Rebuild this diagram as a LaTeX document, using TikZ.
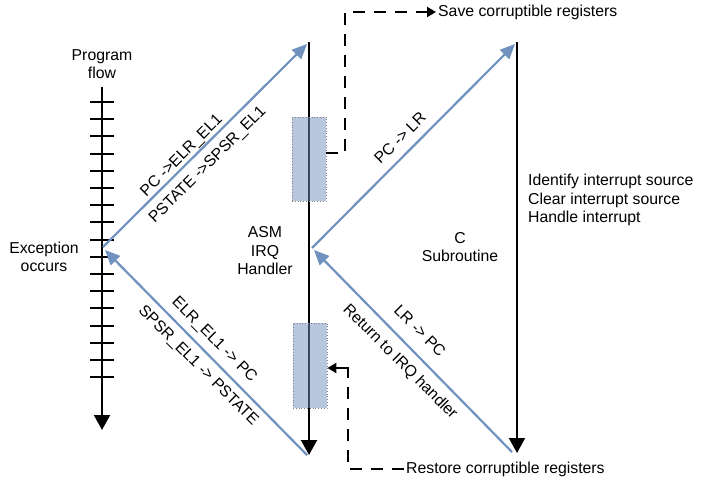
\documentclass[tikz,border=0pt]{standalone}
\usepackage{fontspec}
\setmainfont{Liberation Sans}
\usetikzlibrary{arrows.meta}
\definecolor{flowblue}{RGB}{112,146,190}
\definecolor{boxblue}{RGB}{113,141,189}
\begin{document}
\begin{tikzpicture}[x=1pt,y=-1pt,
  every node/.style={font=\fontsize{15.8}{18.5}\selectfont, inner sep=2pt},
  blk/.style={line width=2pt, black},
  blkarrow/.style={blk, -{Triangle[length=15pt,width=16pt]}},
  bluearrow/.style={line width=2.2pt, flowblue, -{Triangle[length=15pt,width=13pt]}},
  dashline/.style={line width=2pt, dash pattern=on 12pt off 9pt},
  dasharrow/.style={dashline, -{Triangle[length=9pt,width=10pt]}},
  smallarrow/.style={line width=2pt, -{Triangle[length=9pt,width=10pt]}},
  regbox/.style={draw=gray, dotted, line width=0.8pt, fill=boxblue, fill opacity=0.5, minimum width=34pt, minimum height=84pt, inner sep=0pt},
  lbl/.style={align=center}
]
\useasboundingbox (0,0) rectangle (708,484);
% coordinates
\coordinate (axtop) at (102,87);
\coordinate (axbot) at (102,430);
\coordinate (exc) at (103,247);
\coordinate (exc2) at (105,250);
\coordinate (asmtop) at (309,42);
\coordinate (asmtopb) at (307,44);
\coordinate (asmbot) at (309,455);
\coordinate (asmbot2) at (307,455);
\coordinate (asmmid) at (312,248);
\coordinate (asmmid2) at (314,250);
\coordinate (ctop) at (517,42);
\coordinate (ctopb) at (515,44);
\coordinate (cbot) at (517,453);
\coordinate (cbot2) at (512,452);
% program flow axis
\draw[blkarrow] (axtop) -- (axbot);
\foreach \i in {0,...,16}
  \draw[line width=2pt] (90,{102+17.2*\i}) -- (114,{102+17.2*\i});
% text labels
\node[lbl] (pf) at (102,64) {Program\\flow};
\node[lbl] (exo) at (44,257) {Exception\\occurs};
\node[lbl] (asm) at (265,251) {ASM\\IRQ\\Handler};
\node[lbl] (csub) at (460,247) {C\\Subroutine};
\node[align=left, anchor=west] (info) at (526,200) {Identify interrupt source\\Clear interrupt source\\Handle interrupt};
\node[anchor=west] (save) at (436,12) {Save corruptible registers};
\node[anchor=west] (restore) at (404,469) {Restore corruptible registers};
% main vertical flows
\draw[blkarrow] (asmtop) -- (asmbot);
\draw[blkarrow] (ctop) -- (cbot);
% blue transitions
\draw[bluearrow] (exc) -- (asmtopb);
\draw[bluearrow] (asmbot2) -- (exc2);
\draw[bluearrow] (asmmid) -- (ctopb);
\draw[bluearrow] (cbot2) -- (asmmid2);
% register boxes
\node[regbox] (r1) at (309,159) {};
\node[regbox, minimum height=85pt] (r2) at (310,365.5) {};
% dashed save/restore
\draw[dasharrow] ([yshift=6pt]r1.east) -- ++(19,0) |- (save.west);
\coordinate (rd) at (348,368);
\draw[dashline] (restore.west) -| (rd);
\draw[smallarrow] ([yshift=1pt]rd) |- (r2.east |- rd);
% rotated labels
\node[rotate=45] (l1) at (182,156) {PC ->ELR\_EL1};
\node[rotate=45] (l2) at (208,165) {PSTATE ->SPSR\_EL1};
\node[rotate=-45] (l3) at (214,340) {ELR\_EL1 -> PC};
\node[rotate=-45] (l4) at (198,366) {SPSR\_EL1 -> PSTATE};
\node[rotate=45] (l5) at (400,138) {PC -> LR};
\node[rotate=-45] (l6) at (420,331) {LR -> PC};
\node[rotate=-45] (l7) at (400,362) {Return to IRQ handler};
\end{tikzpicture}
\end{document}
